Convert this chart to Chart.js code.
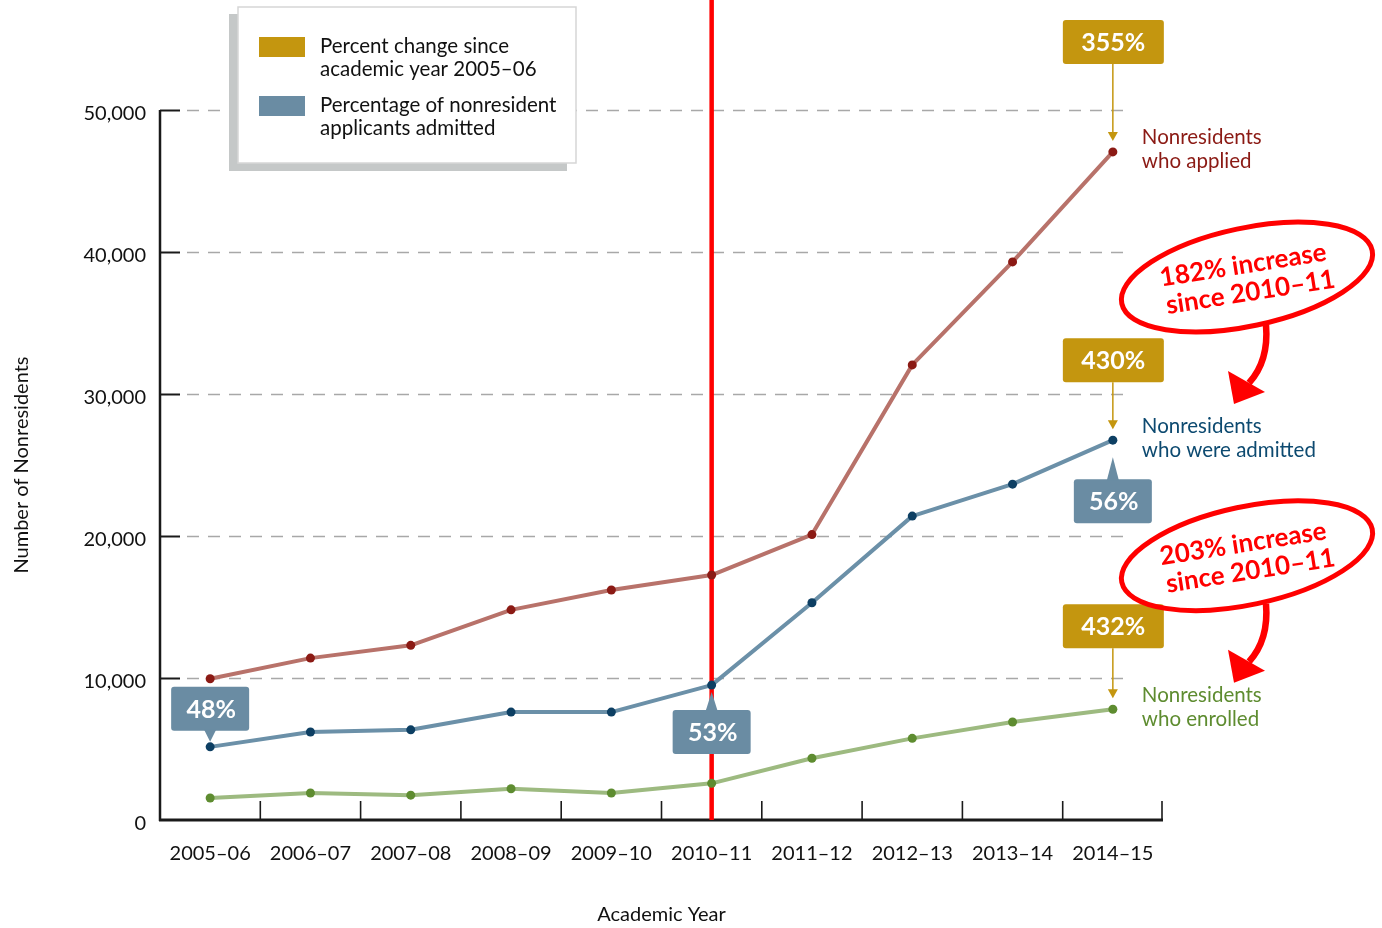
<!DOCTYPE html>
<html>
<head>
<meta charset="utf-8">
<script src="https://cdn.jsdelivr.net/npm/chart.js@4.4.1/dist/chart.umd.min.js"></script>
<style>
  html, body { margin: 0; padding: 0; background: #fff; }
</style>
</head>
<body>
<canvas id="grafico" width="1382" height="928"></canvas>
<script>
// Academic years on the x axis
const years = ['2005–06', '2006–07', '2007–08', '2008–09', '2009–10', '2010–11', '2011–12', '2012–13', '2013–14', '2014–15'];

// Number of nonresidents per year
const applied = [9950, 11400, 12300, 14800, 16200, 17250, 20100, 32050, 39300, 47050];
const admitted = [5150, 6200, 6350, 7600, 7600, 9500, 15300, 21400, 23650, 26750];
const enrolled = [1550, 1900, 1750, 2200, 1900, 2580, 4350, 5750, 6900, 7800];

// y axis ticks
const yTicks = [0, 10000, 20000, 30000, 40000, 50000];

// Gold boxes: percent change since 2005-06 (applied, admitted, enrolled)
const changeSince2005 = ['355%', '430%', '432%'];
// Blue boxes: percentage of applicants admitted
const admitRateYears = ['2005–06', '2010–11', '2014–15'];
const admitRates = ['48%', '53%', '56%'];
// Red ellipses: increase since 2010-11 (admitted, enrolled)
const baseYear = '2010–11';
const increaseSinceBase = ['182%', '203%'];

const seriesLabels = [['Nonresidents', 'who applied'], ['Nonresidents', 'who were admitted'], ['Nonresidents', 'who enrolled']];
const legendLabels = [['Percent change since', 'academic year 2005–06'], ['Percentage of nonresident', 'applicants admitted']];

const FONT = 'Lato, "Noto Sans", sans-serif';
const GOLD = '#c4960f';
const STEEL = '#6a8ca3';
const RED = '#ff0000';
const lineColors = ['#b8726a', '#6b90a8', '#9dba80'];
const pointColors = ['#8b1a14', '#0d3f63', '#5e8c30'];
const textColors = ['#8b1a14', '#0d4a70', '#5e8c30'];

function RoundRect(ctx, x, y, w, h, r) {
    ctx.beginPath();
    ctx.moveTo(x + r, y);
    ctx.lineTo(x + w - r, y);
    ctx.quadraticCurveTo(x + w, y, x + w, y + r);
    ctx.lineTo(x + w, y + h - r);
    ctx.quadraticCurveTo(x + w, y + h, x + w - r, y + h);
    ctx.lineTo(x + r, y + h);
    ctx.quadraticCurveTo(x, y + h, x, y + h - r);
    ctx.lineTo(x, y + r);
    ctx.quadraticCurveTo(x, y, x + r, y);
    ctx.closePath();
}

function BoxText(ctx, text, cx, cy) {
    ctx.fillStyle = '#fff';
    ctx.font = 'bold 25px ' + FONT;
    ctx.textAlign = 'center';
    ctx.textBaseline = 'middle';
    ctx.fillText(text, cx, cy + 1);
}

const annotations = {
    id: 'annotations',
    beforeDatasetsDraw(chart) {
        const { ctx, chartArea: area, scales: { x, y } } = chart;
        ctx.save();

        // dashed grid lines
        ctx.strokeStyle = '#a8a8a8';
        ctx.lineWidth = 1.5;
        ctx.setLineDash([12, 9]);
        for (const v of yTicks) {
            if (v === 0) continue;
            const py = Math.round(y.getPixelForValue(v)) + 0.5;
            ctx.beginPath();
            ctx.moveTo(area.left + 27, py);
            ctx.lineTo(area.right - 33, py);
            ctx.stroke();
        }
        ctx.setLineDash([]);

        // y axis with short solid ticks
        ctx.strokeStyle = '#1a1a1a';
        ctx.lineWidth = 2;
        for (const v of yTicks) {
            if (v === 0) continue;
            const py = Math.round(y.getPixelForValue(v)) + 0.5;
            ctx.beginPath();
            ctx.moveTo(area.left, py);
            ctx.lineTo(area.left + 20, py);
            ctx.stroke();
        }
        ctx.lineWidth = 2.5;
        ctx.beginPath();
        ctx.moveTo(area.left, y.getPixelForValue(yTicks[yTicks.length - 1]));
        ctx.lineTo(area.left, area.bottom + 1);
        ctx.stroke();

        // x axis and ticks between the categories
        ctx.lineWidth = 3;
        ctx.beginPath();
        ctx.moveTo(area.left - 1, area.bottom);
        ctx.lineTo(area.right, area.bottom);
        ctx.stroke();
        ctx.lineWidth = 1.6;
        for (let i = 1; i <= years.length; i++) {
            const bx = i < years.length ? (x.getPixelForValue(i - 1) + x.getPixelForValue(i)) / 2 : area.right - 1;
            ctx.beginPath();
            ctx.moveTo(bx, area.bottom);
            ctx.lineTo(bx, area.bottom - 19);
            ctx.stroke();
        }

        // red line at the base year
        const rx = x.getPixelForValue(years.indexOf(baseYear));
        ctx.strokeStyle = RED;
        ctx.lineWidth = 4.5;
        ctx.beginPath();
        ctx.moveTo(rx, 0);
        ctx.lineTo(rx, area.bottom);
        ctx.stroke();

        ctx.restore();
    },
    afterDatasetsDraw(chart) {
        const { ctx, chartArea: area, scales: { x, y } } = chart;
        const series = [applied, admitted, enrolled];
        const last = years.length - 1;
        const lastX = x.getPixelForValue(last);
        ctx.save();

        // gold boxes with arrows and series labels
        const boxGap = [88, 58, 61];
        for (let i = 0; i < series.length; i++) {
            const py = y.getPixelForValue(series[i][last]);
            const bottom = py - boxGap[i];
            ctx.fillStyle = GOLD;
            RoundRect(ctx, lastX - 50, bottom - 44, 101, 44, 3);
            ctx.fill();
            BoxText(ctx, changeSince2005[i], lastX + 0.5, bottom - 22);

            ctx.strokeStyle = GOLD;
            ctx.lineWidth = 1.5;
            ctx.beginPath();
            ctx.moveTo(lastX, bottom);
            ctx.lineTo(lastX, py - 18);
            ctx.stroke();
            ctx.fillStyle = GOLD;
            ctx.beginPath();
            ctx.moveTo(lastX - 5, py - 20);
            ctx.lineTo(lastX + 5, py - 20);
            ctx.lineTo(lastX, py - 11);
            ctx.closePath();
            ctx.fill();

            ctx.fillStyle = textColors[i];
            ctx.font = '20.5px ' + FONT;
            ctx.textAlign = 'left';
            ctx.textBaseline = 'middle';
            ctx.fillText(seriesLabels[i][0], lastX + 29, py - 14);
            ctx.fillText(seriesLabels[i][1], lastX + 29, py + 10);
        }

        // blue boxes: admit rates, pointing at the admitted line
        const placement = ['above', 'below', 'below'];
        const tipGap = [5, 7, 17];
        const boxOff = [16, 25, 39];
        for (let i = 0; i < admitRates.length; i++) {
            const idx = years.indexOf(admitRateYears[i]);
            const px = x.getPixelForValue(idx);
            const py = y.getPixelForValue(admitted[idx]);
            ctx.fillStyle = STEEL;
            let boxTop, baseY, tipY;
            if (placement[i] === 'above') {
                boxTop = py - boxOff[i] - 44;
                baseY = py - boxOff[i] - 1;
                tipY = py - tipGap[i];
            } else {
                boxTop = py + boxOff[i];
                baseY = py + boxOff[i] + 1;
                tipY = py + tipGap[i];
            }
            RoundRect(ctx, px - 39, boxTop, 78, 44, 3);
            ctx.fill();
            ctx.beginPath();
            ctx.moveTo(px - 6, baseY);
            ctx.lineTo(px + 6, baseY);
            ctx.lineTo(px, tipY);
            ctx.closePath();
            ctx.fill();
            BoxText(ctx, admitRates[i], px + 1, boxTop + 22);
        }

        // red ellipses with the increase since the base year
        const labelY = [applied, admitted, enrolled].map(s => y.getPixelForValue(s[last]));
        for (let i = 0; i < increaseSinceBase.length; i++) {
            const cx = area.right + 84;
            const cy = (labelY[i] + labelY[i + 1]) / 2 - 19;
            ctx.strokeStyle = RED;
            ctx.lineWidth = 5;
            ctx.beginPath();
            ctx.ellipse(cx, cy, 128, 49, -12 * Math.PI / 180, 0, Math.PI * 2);
            ctx.stroke();

            ctx.save();
            ctx.translate(cx - 2, cy);
            ctx.rotate(-9 * Math.PI / 180);
            ctx.fillStyle = RED;
            ctx.font = 'bold 26px ' + FONT;
            ctx.textAlign = 'center';
            ctx.textBaseline = 'middle';
            ctx.fillText(increaseSinceBase[i] + ' increase', 0, -12);
            ctx.fillText('since ' + baseYear, 3, 16);
            ctx.restore();

            // curved arrow down to the next label
            ctx.strokeStyle = RED;
            ctx.lineWidth = 6.5;
            ctx.beginPath();
            ctx.moveTo(cx + 19, cy + 48);
            ctx.quadraticCurveTo(cx + 22, cy + 84, cx + 2, cy + 106);
            ctx.stroke();
            ctx.fillStyle = RED;
            ctx.beginPath();
            ctx.moveTo(cx - 19, cy + 94);
            ctx.lineTo(cx + 18, cy + 115);
            ctx.lineTo(cx - 13, cy + 127);
            ctx.closePath();
            ctx.fill();
        }
        ctx.restore();
    },
    afterDraw(chart) {
        const ctx = chart.ctx;
        ctx.save();
        // legend box with shadow
        ctx.fillStyle = '#c5c8c8';
        ctx.fillRect(229, 14, 338, 157);
        ctx.fillStyle = '#fff';
        ctx.fillRect(238, 7, 338, 156);
        ctx.strokeStyle = '#d6d6d6';
        ctx.lineWidth = 1.5;
        ctx.strokeRect(238, 7, 338, 156);

        const swatch = [GOLD, STEEL];
        const rowY = [37, 96];
        for (let i = 0; i < legendLabels.length; i++) {
            ctx.fillStyle = swatch[i];
            ctx.fillRect(259, rowY[i], 46, 20);
            ctx.fillStyle = '#111';
            ctx.font = '20.5px ' + FONT;
            ctx.textAlign = 'left';
            ctx.textBaseline = 'middle';
            ctx.fillText(legendLabels[i][0], 320, rowY[i] + 9);
            ctx.fillText(legendLabels[i][1], 320, rowY[i] + 32);
        }
        ctx.restore();
    }
};

function CarregarGrafico() {
    const datasets = [];
    const data = [applied, admitted, enrolled];
    // draw enrolled first so applied sits on top
    for (let i = data.length - 1; i >= 0; i--) {
        datasets.push({
            label: seriesLabels[i].join(' '),
            data: data[i],
            borderColor: lineColors[i],
            borderWidth: 4,
            borderJoinStyle: 'round',
            pointRadius: 4.5,
            pointBorderWidth: 0,
            pointBackgroundColor: pointColors[i],
            tension: 0,
            clip: false
        });
    }

    const ctx = document.getElementById('grafico').getContext('2d');
    new Chart(ctx, {
        type: 'line',
        data: { labels: years, datasets: datasets },
        options: {
            responsive: false,
            animation: false,
            devicePixelRatio: 1,
            layout: { padding: { left: 0, right: 219, top: 110, bottom: 0 } },
            plugins: { legend: { display: false }, tooltip: { enabled: false } },
            scales: {
                x: {
                    offset: true,
                    grid: { display: false, drawTicks: false },
                    border: { display: false },
                    ticks: { padding: 22, maxRotation: 0, color: '#111', font: { family: FONT, size: 20 } },
                    title: { display: true, text: 'Academic Year', color: '#111', font: { family: FONT, size: 20 }, padding: { top: 0, bottom: 1 } },
                    afterFit: s => { s.height = 108; }
                },
                y: {
                    min: 0,
                    max: 50000,
                    afterBuildTicks: s => { s.ticks = yTicks.map(v => ({ value: v })); },
                    grid: { display: false, drawTicks: false },
                    border: { display: false },
                    ticks: { padding: 14, labelOffset: 4, color: '#111', font: { family: FONT, size: 20 }, callback: v => v.toLocaleString('en-US') },
                    title: { display: true, text: 'Number of Nonresidents', color: '#111', font: { family: FONT, size: 20 }, padding: { top: 10, bottom: 0 } },
                    afterFit: s => { s.width = 160; }
                }
            }
        },
        plugins: [annotations]
    });
}

CarregarGrafico();
</script>
</body>
</html>
